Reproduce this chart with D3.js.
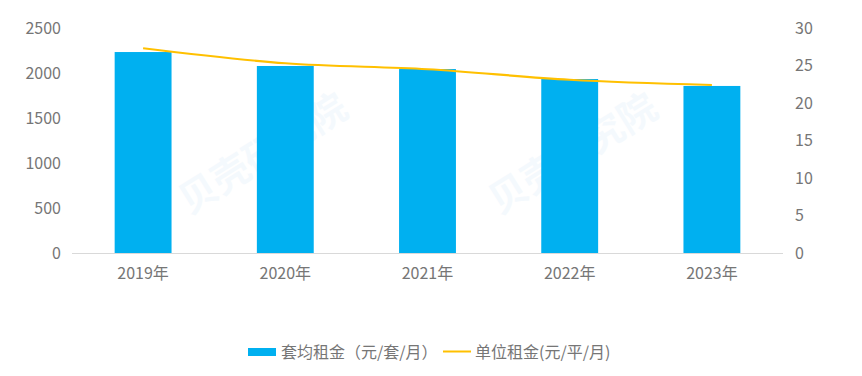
<!DOCTYPE html>
<html>
<head>
<meta charset="utf-8">
<script src="https://cdn.jsdelivr.net/npm/d3@7"></script>
<style>
  body { margin: 0; background: #fff; }
  svg { display: block; font-family: "Noto Sans CJK SC", "Noto Sans", sans-serif; }
</style>
</head>
<body>
<svg id="chart" width="862" height="376"></svg>
<script>
// data
const years = ['2019年', '2020年', '2021年', '2022年', '2023年'];
const avgRent = [2233, 2078, 2044, 1933, 1856];      // 套均租金 (元/套/月)
const unitRent = [27.3, 25.3, 24.5, 23.1, 22.4];      // 单位租金 (元/平/月)
const leftTicks = [0, 500, 1000, 1500, 2000, 2500];
const rightTicks = [0, 5, 10, 15, 20, 25, 30];
const legendNames = ['套均租金（元/套/月）', '单位租金(元/平/月)'];

const barColor = '#00b0f0';
const lineColor = '#ffc000';
const textColor = '#767676';

const svg = d3.select('#chart');

// plot area
const x0 = 72, x1 = 783, yTop = 28, yBase = 253;

const x = d3.scaleBand().domain(years).range([x0, x1]).paddingInner(0.6).paddingOuter(0.3);
const yL = d3.scaleLinear().domain([0, 2500]).range([yBase, yTop]);
const yR = d3.scaleLinear().domain([0, 30]).range([yBase, yTop]);

// faint watermark
[[270, 165], [580, 165]].forEach(([wx, wy]) => {
  svg.append('text')
    .attr('transform', `translate(${wx},${wy}) rotate(-32)`)
    .attr('text-anchor', 'middle')
    .attr('font-size', 38)
    .attr('font-weight', 'bold')
    .attr('fill', '#5aa9e6')
    .attr('opacity', 0.06)
    .text('贝壳研究院');
});

// bars
svg.append('g').selectAll('rect')
  .data(years)
  .enter().append('rect')
    .attr('x', d => x(d))
    .attr('y', (d, i) => yL(avgRent[i]))
    .attr('width', x.bandwidth())
    .attr('height', (d, i) => yBase - yL(avgRent[i]))
    .attr('fill', barColor);

// base line
svg.append('line')
  .attr('x1', x0).attr('x2', x1)
  .attr('y1', yBase + 0.5).attr('y2', yBase + 0.5)
  .attr('stroke', '#d9d9d9').attr('stroke-width', 1);

// unit rent line
const line = d3.line()
  .x((d, i) => x(years[i]) + x.bandwidth() / 2)
  .y(d => yR(d))
  .curve(d3.curveMonotoneX);

svg.append('path')
  .datum(unitRent)
  .attr('d', line)
  .attr('fill', 'none')
  .attr('stroke', lineColor)
  .attr('stroke-width', 2.2);

// left axis labels
svg.append('g').selectAll('text')
  .data(leftTicks)
  .enter().append('text')
    .attr('x', 61)
    .attr('y', d => yL(d))
    .attr('dy', '0.35em')
    .attr('text-anchor', 'end')
    .attr('font-size', 16)
    .attr('fill', textColor)
    .text(d => d);

// right axis labels
svg.append('g').selectAll('text')
  .data(rightTicks)
  .enter().append('text')
    .attr('x', 795)
    .attr('y', d => yR(d))
    .attr('dy', '0.35em')
    .attr('text-anchor', 'start')
    .attr('font-size', 16)
    .attr('fill', textColor)
    .text(d => d);

// x labels
svg.append('g').selectAll('text')
  .data(years)
  .enter().append('text')
    .attr('x', d => x(d) + x.bandwidth() / 2)
    .attr('y', 279)
    .attr('text-anchor', 'middle')
    .attr('font-size', 16)
    .attr('fill', textColor)
    .text(d => d);

// legend
const lg = svg.append('g');
lg.append('rect')
  .attr('x', 248).attr('y', 348)
  .attr('width', 28).attr('height', 8)
  .attr('fill', barColor);
lg.append('text')
  .attr('x', 281).attr('y', 352).attr('dy', '0.35em')
  .attr('font-size', 16).attr('fill', textColor)
  .text(legendNames[0]);
lg.append('line')
  .attr('x1', 443).attr('x2', 471)
  .attr('y1', 351.5).attr('y2', 351.5)
  .attr('stroke', lineColor).attr('stroke-width', 2);
lg.append('text')
  .attr('x', 475).attr('y', 352).attr('dy', '0.35em')
  .attr('font-size', 16).attr('fill', textColor)
  .text(legendNames[1]);
</script>
</body>
</html>
